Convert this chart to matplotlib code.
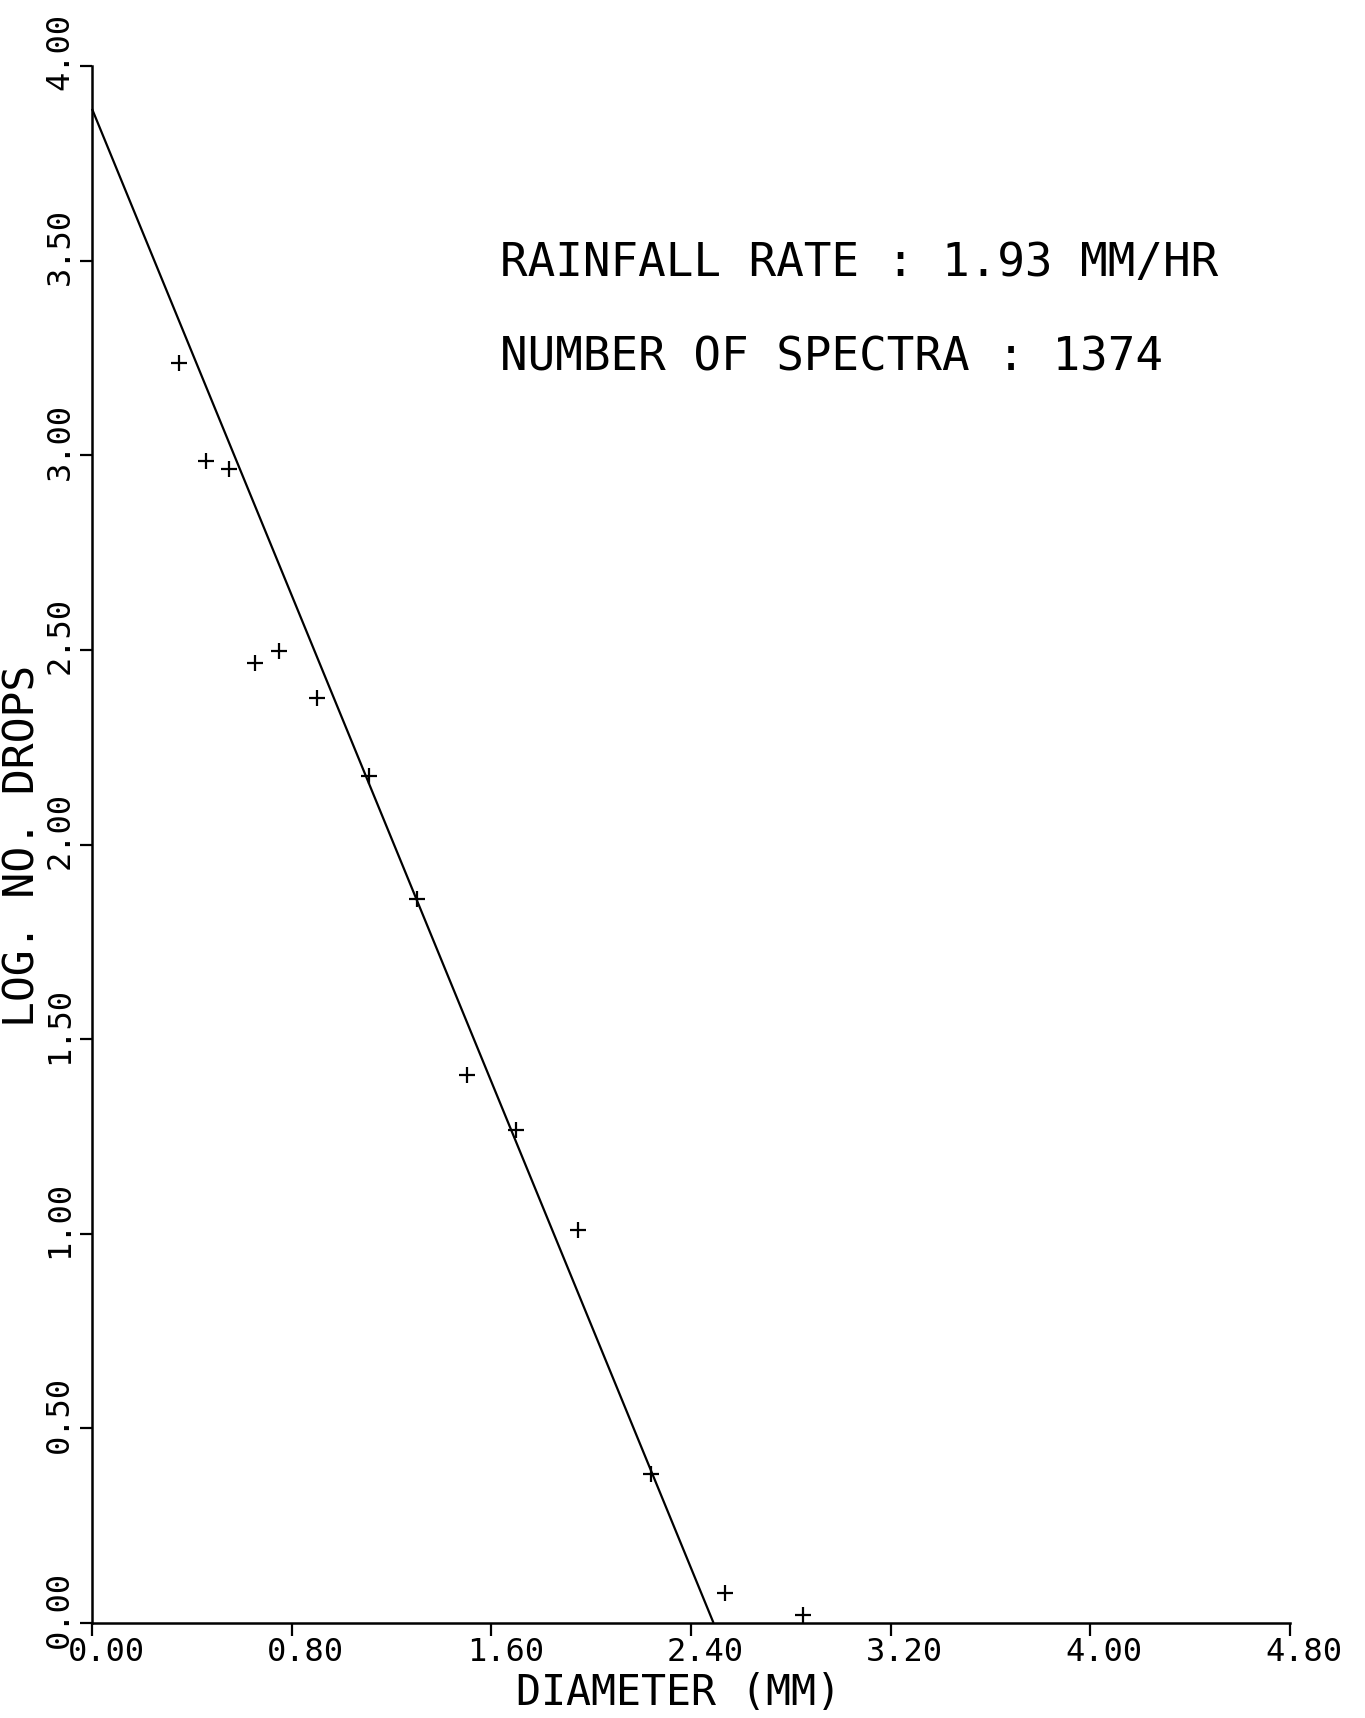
import matplotlib
matplotlib.use('Agg')
import matplotlib.pyplot as plt
import matplotlib.transforms as mtransforms
import numpy as np

# ---- data ----
diameter = [0.35, 0.455, 0.55, 0.652, 0.751, 0.90, 1.11, 1.303, 1.503, 1.70, 1.946, 2.24, 2.538, 2.848]
log_drops = [3.236, 2.986, 2.964, 2.467, 2.496, 2.377, 2.176, 1.859, 1.407, 1.266, 1.009, 0.383, 0.076, 0.02]
fit_intercept = 3.89
fit_slope = -1.562
x_ticks = [0.0, 0.8, 1.6, 2.4, 3.2, 4.0, 4.8]
x_tick_labels = ['0.00', '0.80', '1.60', '2.40', '3.20', '4.00', '4.80']
y_ticks = [0.0, 0.5, 1.0, 1.5, 2.0, 2.5, 3.0, 3.5, 4.0]
y_tick_labels = ['0.00', '0.50', '1.00', '1.50', '2.00', '2.50', '3.00', '3.50', '4.00']
rainfall_text = 'RAINFALL RATE : 1.93 MM/HR'
spectra_text = 'NUMBER OF SPECTRA : 1374'

plt.rcParams['font.family'] = ['DejaVu Sans Mono', 'DejaVu Sans']

W, H = 1365, 1718
fig = plt.figure(figsize=(W / 100, H / 100), dpi=100)
ax = fig.add_axes([92 / W, 1 - 1623 / H, (1290 - 92) / W, (1623 - 66) / H])

# fitted line, from x=0 to where it meets y=0
x_end = -fit_intercept / fit_slope
xs = np.array([0.0, x_end])
ax.plot(xs, fit_intercept + fit_slope * xs, color='black', lw=1.6, solid_capstyle='butt', clip_on=False)

ax.plot(diameter, log_drops, linestyle='none', marker='+', color='black', markersize=11,
        markeredgewidth=1.6, clip_on=False)

ax.set_xlim(0, 4.8)
ax.set_ylim(0, 4.0)
for s in ['top', 'right']:
    ax.spines[s].set_visible(False)
for s in ['left', 'bottom']:
    ax.spines[s].set_linewidth(1.8)

ax.set_xticks(x_ticks)
ax.set_xticklabels(x_tick_labels)
ax.set_yticks(y_ticks)
ax.set_yticklabels(y_tick_labels, rotation=90, va='center')
ax.tick_params(axis='both', direction='out', length=9, width=1.6, labelsize=23, color='black')
ax.tick_params(axis='x', pad=1)
ax.tick_params(axis='y', pad=3)

# shift tick labels slightly, as on the plotter output
dx = mtransforms.ScaledTranslation(14 / 100, 0, fig.dpi_scale_trans)
for lab in ax.get_xticklabels():
    lab.set_transform(lab.get_transform() + dx)
dy = mtransforms.ScaledTranslation(0, 14 / 100, fig.dpi_scale_trans)
for lab in ax.get_yticklabels():
    lab.set_transform(lab.get_transform() + dy)

fig.text(678 / W, 1 - 1693 / H, 'DIAMETER (MM)', ha='center', va='center', fontsize=30)
fig.text(23 / W, 1 - 846 / H, 'LOG. NO. DROPS', ha='center', va='center', rotation=90, fontsize=31)

fig.text(500 / W, 1 - 263 / H, rainfall_text, ha='left', va='center', fontsize=33)
fig.text(500 / W, 1 - 358 / H, spectra_text, ha='left', va='center', fontsize=33)

fig.savefig('out.png', dpi=100, facecolor='white')
